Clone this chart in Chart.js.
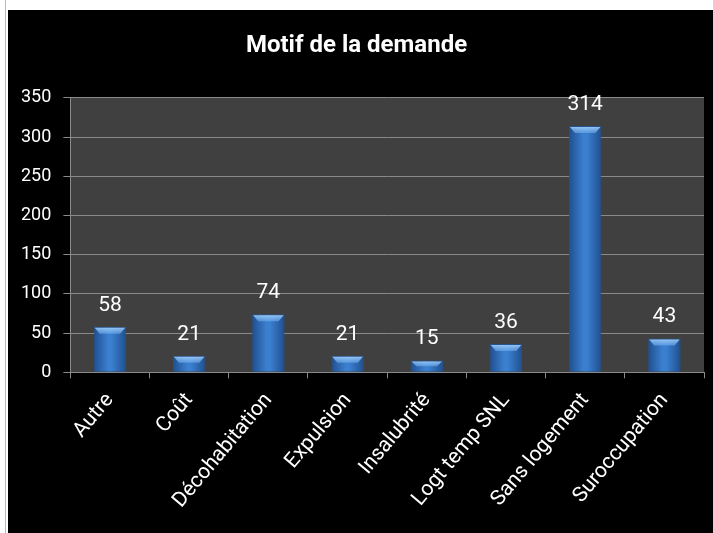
<!DOCTYPE html>
<html>
<head>
<meta charset="utf-8">
<script src="https://cdn.jsdelivr.net/npm/chart.js@4"></script>
<style>
  body { margin: 0; background: #fff; }
  #frame { position: absolute; left: 5px; top: 0; width: 1px; height: 533px; background: #b8b8b8; }
  #box { position: absolute; left: 8px; top: 10px; width: 705px; height: 523px; background: #000; }
</style>
</head>
<body>
<div id="frame"></div>
<div id="box"><canvas id="myChart" width="705" height="523"></canvas></div>
<script>
// Data
const categories = ['Autre', 'Coût', 'Décohabitation', 'Expulsion', 'Insalubrité', 'Logt temp SNL', 'Sans logement', 'Suroccupation'];
const counts = [58, 21, 74, 21, 15, 36, 314, 43];
const yTicks = [0, 50, 100, 150, 200, 250, 300, 350];

const fontFamily = "'Roboto', sans-serif";

// gray plot background
const plotBg = {
  id: 'plotBg',
  beforeDraw(chart) {
    const a = chart.chartArea;
    const c = chart.ctx;
    c.save();
    c.fillStyle = '#404040';
    c.fillRect(a.left, a.top, a.right - a.left, a.bottom - a.top);
    c.restore();
  }
};

// gradient fill of each bar (needs the bar's pixel position)
const barGradient = {
  id: 'barGradient',
  beforeDatasetsDraw(chart) {
    const c = chart.ctx;
    chart.getDatasetMeta(0).data.forEach((bar) => {
      const l = bar.x - bar.width / 2, r = bar.x + bar.width / 2;
      const g = c.createLinearGradient(l, 0, r, 0);
      g.addColorStop(0, '#1f4f8f');
      g.addColorStop(0.45, '#3b80d0');
      g.addColorStop(0.55, '#3b80d0');
      g.addColorStop(1, '#1f4f8f');
      bar.options.backgroundColor = g;
    });
  }
};

// bevel on top of bars + value labels
const barDecor = {
  id: 'barDecor',
  afterDatasetsDraw(chart) {
    const c = chart.ctx;
    const meta = chart.getDatasetMeta(0);
    c.save();
    meta.data.forEach((bar, i) => {
      const w = bar.width;
      const l = bar.x - w / 2, r = bar.x + w / 2;
      const bev = Math.min(7, (bar.base - bar.y) / 2);
      const g = c.createLinearGradient(0, bar.y, 0, bar.y + bev);
      g.addColorStop(0, 'rgba(170, 215, 255, 0.9)');
      g.addColorStop(1, 'rgba(110, 170, 235, 0.6)');
      c.fillStyle = g;
      c.beginPath();
      c.moveTo(l + 1, bar.y + 1);
      c.lineTo(r - 1, bar.y + 1);
      c.lineTo(r - 6, bar.y + bev);
      c.lineTo(l + 6, bar.y + bev);
      c.closePath();
      c.fill();

      c.fillStyle = '#fff';
      c.font = '21px ' + fontFamily;
      c.textAlign = 'center';
      c.textBaseline = 'bottom';
      c.fillText(counts[i], bar.x, bar.y - 11);
    });
    c.restore();
  }
};

var ctx = document.getElementById('myChart');

var myChart = new Chart(ctx, {
  type: 'bar',
  data: {
    labels: categories,
    datasets: [{
      data: counts,
      // scriptable so every bar keeps its own options object
      backgroundColor: (context) => '#2f6cb8',
      borderColor: '#27528c',
      borderWidth: 1,
      barPercentage: 0.41,
      categoryPercentage: 1
    }]
  },
  options: {
    responsive: false,
    animation: false,
    layout: { padding: { left: 1, right: 9, top: 0, bottom: 10 } },
    plugins: {
      legend: { display: false },
      tooltip: { enabled: false },
      title: {
        display: true,
        text: 'Motif de la demande',
        color: '#fff',
        font: { family: fontFamily, size: 24, weight: 'bold' },
        padding: { top: 22, bottom: 37 }
      }
    },
    scales: {
      x: {
        offset: true,
        grid: { display: true, drawOnChartArea: false, offset: true, color: '#8a8a8a', tickLength: 6 },
        border: { color: '#8a8a8a' },
        ticks: {
          color: '#fff',
          font: { family: fontFamily, size: 21 },
          minRotation: 50,
          maxRotation: 50,
          padding: 10
        }
      },
      y: {
        min: 0,
        max: 350,
        afterBuildTicks: (axis) => { axis.ticks = yTicks.map(v => ({ value: v })); },
        grid: { color: '#8a8a8a', tickLength: 7 },
        border: { color: '#8a8a8a' },
        ticks: {
          color: '#fff',
          font: { family: fontFamily, size: 18 },
          padding: 12
        }
      }
    }
  },
  plugins: [plotBg, barGradient, barDecor]
});
</script>
</body>
</html>
